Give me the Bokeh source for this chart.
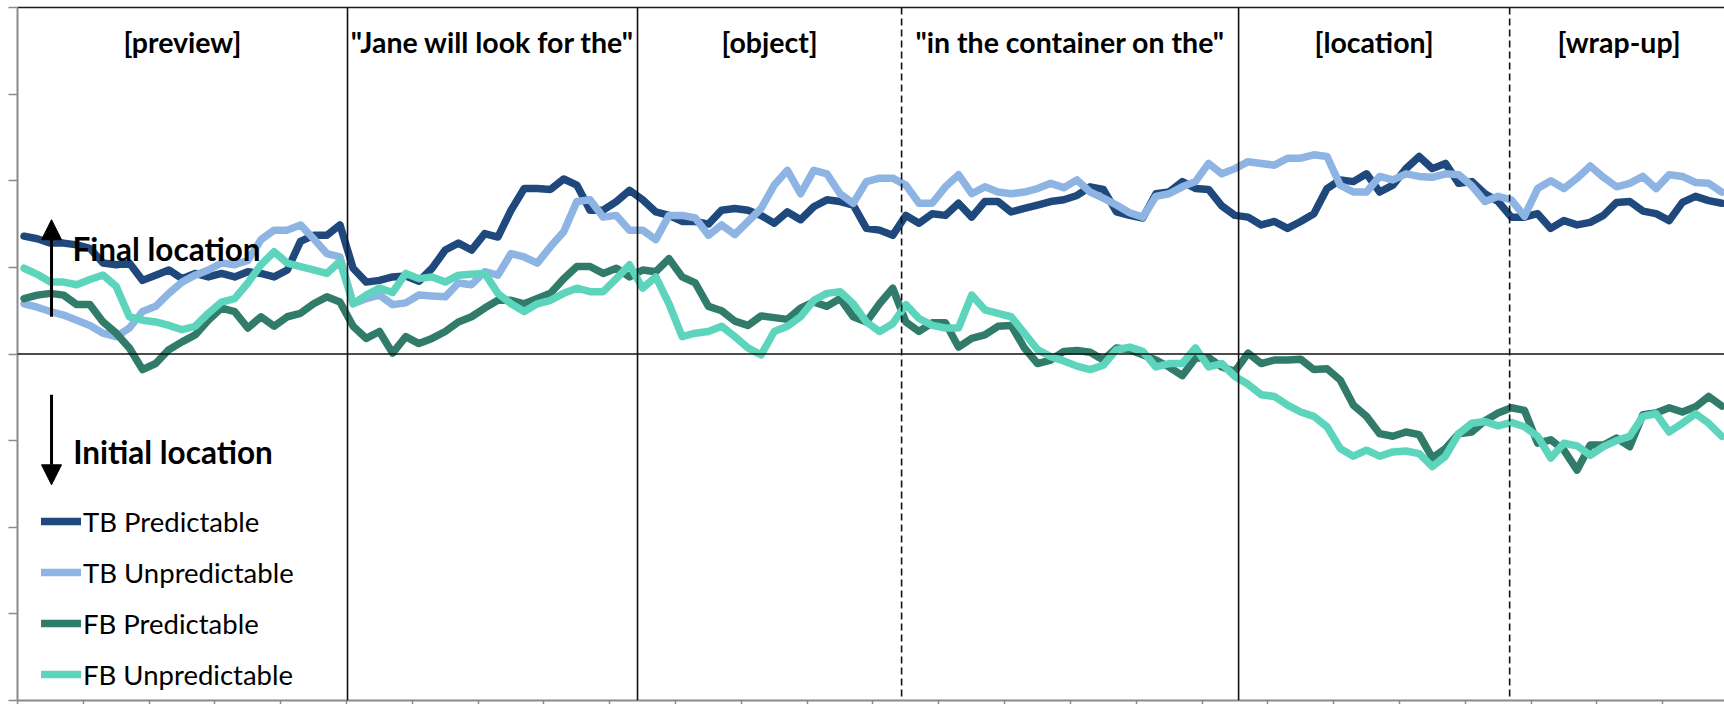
from bokeh.plotting import figure
from bokeh.models import (Range1d, FixedTicker, LinearAxis, Span, Legend, LegendItem,
                          Arrow, NormalHead, Label, ColumnDataSource, CustomJSTickFormatter)
from bokeh.core.properties import value
from bokeh.embed import file_html
from bokeh.resources import INLINE

# ---------------- data (time bins, arbitrary units: final-minus-initial preference) ----
time_bins = list(range(1, 260, 2))

tb_predictable = [
    1.36, 1.33, 1.28, 1.28, 1.26, 1.22, 1.05, 1.03, 1.05, 0.85,
    0.91, 0.97, 0.87, 0.93, 0.89, 0.93, 0.89, 0.95, 0.93, 0.89,
    0.97, 1.30, 1.37, 1.37, 1.49, 0.99, 0.83, 0.85, 0.89, 0.90,
    0.84, 0.99, 1.20, 1.28, 1.20, 1.39, 1.35, 1.66, 1.91, 1.91,
    1.90, 2.02, 1.95, 1.66, 1.66, 1.76, 1.89, 1.78, 1.64, 1.60,
    1.53, 1.53, 1.50, 1.66, 1.68, 1.66, 1.60, 1.51, 1.64, 1.55,
    1.70, 1.78, 1.76, 1.72, 1.45, 1.43, 1.37, 1.60, 1.51, 1.62,
    1.60, 1.74, 1.58, 1.76, 1.76, 1.64, 1.68, 1.72, 1.76, 1.78,
    1.83, 1.93, 1.90, 1.64, 1.60, 1.57, 1.85, 1.87, 1.99, 1.91,
    1.90, 1.71, 1.60, 1.58, 1.49, 1.53, 1.45, 1.53, 1.62, 1.91,
    2.01, 1.99, 2.08, 1.87, 1.95, 2.14, 2.28, 2.14, 2.20, 1.97,
    1.99, 1.85, 1.76, 1.58, 1.58, 1.62, 1.45, 1.54, 1.49, 1.52,
    1.60, 1.75, 1.76, 1.65, 1.62, 1.54, 1.75, 1.82, 1.77, 1.74,
]

tb_unpredictable = [
    0.58, 0.54, 0.49, 0.45, 0.39, 0.33, 0.24, 0.20, 0.30, 0.49,
    0.55, 0.70, 0.83, 0.91, 0.97, 1.05, 1.03, 1.08, 1.32, 1.43,
    1.43, 1.49, 1.33, 1.16, 1.12, 0.58, 0.64, 0.68, 0.57, 0.59,
    0.68, 0.67, 0.66, 0.82, 0.80, 0.95, 0.91, 1.16, 1.12, 1.05,
    1.24, 1.41, 1.76, 1.78, 1.58, 1.60, 1.43, 1.43, 1.32, 1.60,
    1.60, 1.57, 1.37, 1.49, 1.38, 1.53, 1.68, 1.95, 2.12, 1.85,
    2.12, 2.08, 1.85, 1.74, 1.99, 2.03, 2.03, 1.95, 1.74, 1.74,
    1.93, 2.07, 1.85, 1.93, 1.87, 1.85, 1.87, 1.91, 1.97, 1.92,
    2.01, 1.87, 1.80, 1.72, 1.63, 1.58, 1.82, 1.85, 1.93, 1.99,
    2.20, 2.08, 2.14, 2.22, 2.20, 2.18, 2.26, 2.26, 2.30, 2.28,
    1.95, 1.87, 1.87, 2.05, 2.01, 2.08, 2.05, 2.04, 2.08, 2.07,
    1.94, 1.76, 1.82, 1.78, 1.59, 1.91, 2.00, 1.91, 2.03, 2.17,
    2.04, 1.93, 1.97, 2.05, 1.91, 2.07, 2.05, 1.98, 1.97, 1.87,
]

fb_predictable = [
    0.64, 0.68, 0.70, 0.68, 0.57, 0.57, 0.37, 0.24, 0.07, -0.18,
    -0.11, 0.05, 0.14, 0.22, 0.39, 0.53, 0.49, 0.30, 0.43, 0.32,
    0.43, 0.47, 0.58, 0.66, 0.60, 0.32, 0.18, 0.26, 0.01, 0.20,
    0.12, 0.18, 0.26, 0.37, 0.43, 0.53, 0.62, 0.62, 0.58, 0.64,
    0.70, 0.87, 1.01, 1.01, 0.93, 0.99, 0.89, 0.97, 0.95, 1.10,
    0.89, 0.82, 0.55, 0.50, 0.38, 0.33, 0.44, 0.42, 0.40, 0.53,
    0.60, 0.55, 0.64, 0.43, 0.37, 0.58, 0.76, 0.37, 0.26, 0.36,
    0.36, 0.08, 0.18, 0.22, 0.32, 0.33, 0.07, -0.11, -0.07, 0.03,
    0.04, 0.02, -0.07, 0.07, 0.05, -0.01, -0.07, -0.15, -0.25, -0.05,
    -0.04, -0.15, -0.20, 0.01, -0.11, -0.07, -0.07, -0.06, -0.18, -0.17,
    -0.30, -0.59, -0.72, -0.92, -0.95, -0.90, -0.93, -1.20, -1.09, -0.92,
    -0.90, -0.77, -0.68, -0.62, -0.65, -1.03, -0.99, -1.11, -1.34, -1.05,
    -1.05, -0.97, -1.07, -0.70, -0.68, -0.62, -0.67, -0.61, -0.49, -0.60,
]

fb_unpredictable = [
    0.99, 0.92, 0.83, 0.83, 0.80, 0.86, 0.91, 0.78, 0.43, 0.39,
    0.37, 0.33, 0.28, 0.32, 0.47, 0.60, 0.64, 0.82, 1.03, 1.18,
    1.05, 1.01, 0.97, 0.93, 1.07, 0.58, 0.68, 0.76, 0.71, 0.93,
    0.87, 0.89, 0.83, 0.91, 0.92, 0.93, 0.70, 0.58, 0.49, 0.58,
    0.62, 0.70, 0.76, 0.72, 0.72, 0.87, 1.03, 0.76, 0.89, 0.58,
    0.20, 0.24, 0.26, 0.32, 0.20, 0.07, -0.01, 0.26, 0.32, 0.43,
    0.62, 0.70, 0.72, 0.58, 0.37, 0.26, 0.35, 0.57, 0.41, 0.33,
    0.30, 0.30, 0.68, 0.51, 0.47, 0.43, 0.24, 0.05, -0.03, -0.08,
    -0.14, -0.18, -0.13, 0.05, 0.08, 0.03, -0.15, -0.11, -0.11, 0.07,
    -0.15, -0.11, -0.26, -0.35, -0.47, -0.49, -0.59, -0.67, -0.72, -0.84,
    -1.09, -1.18, -1.11, -1.18, -1.13, -1.12, -1.15, -1.30, -1.18, -0.92,
    -0.80, -0.78, -0.83, -0.79, -0.84, -0.95, -1.20, -1.03, -1.06, -1.17,
    -1.07, -1.00, -0.95, -0.72, -0.69, -0.90, -0.80, -0.69, -0.80, -0.95,
]

series_names = ["TB Predictable", "TB Unpredictable", "FB Predictable", "FB Unpredictable"]
series_values = [tb_predictable, tb_unpredictable, fb_predictable, fb_unpredictable]
series_colors = ["#1F497D", "#8DB4E2", "#317B6A", "#5DD5BD"]

# sentence regions (boundaries in time bins) and their labels
region_edges = [0, 50.15, 94.22, 134.35, 185.56, 226.75, 260]
boundary_dashed = [False, False, True, False, True]   # inner boundaries, left to right
region_labels = ["[preview]", "\"Jane will look for the\"", "[object]",
                 "\"in the container on the\"", "[location]", "[wrap-up]"]

x_ticks = list(range(0, 261, 10))
y_ticks = [-4, -3, -2, -1, 0, 1, 2, 3, 4]

# ---------------- figure ----------------
FONT = "Lato"
p = figure(width=1724, height=704, output_backend="svg", toolbar_location=None,
           x_range=Range1d(0, 259.4), y_range=Range1d(-4, 4),
           min_border_left=17, min_border_right=0, min_border_top=7, min_border_bottom=0,
           outline_line_color=None, background_fill_color="white",
           border_fill_color="white")
p.grid.visible = False

AXIS_GRAY = "#8A8A8A"
blank = CustomJSTickFormatter(code="return ''")
for ax, tks, tout in ((p.xaxis[0], x_ticks, 4), (p.yaxis[0], y_ticks, 9)):
    ax.ticker = FixedTicker(ticks=tks)
    ax.formatter = blank
    ax.major_label_standoff = 0
    ax.major_tick_out = tout
    ax.major_tick_in = 0
    ax.minor_tick_out = 0
    ax.minor_tick_in = 0
    ax.axis_line_color = AXIS_GRAY
    ax.axis_line_width = 2
    ax.major_tick_line_color = AXIS_GRAY
    ax.major_tick_line_width = 1.5

top_axis = LinearAxis(ticker=FixedTicker(ticks=[]), formatter=blank,
                      major_label_standoff=0, major_tick_out=0, major_tick_in=0,
                      minor_tick_out=0, minor_tick_in=0,
                      axis_line_color="#1A1A1A", axis_line_width=1.5)
p.add_layout(top_axis, "above")

# data lines
renderers = []
for vals, col in zip(series_values, series_colors):
    r = p.line(time_bins, vals, line_color=col, line_width=7.5,
               line_join="round", line_cap="round")
    renderers.append(r)

# zero line and region boundaries
p.add_layout(Span(location=0, dimension="width", line_color="#111111", line_width=1.6))
for edge, dashed in zip(region_edges[1:-1], boundary_dashed):
    p.add_layout(Span(location=edge, dimension="height", line_color="#111111",
                      line_width=1.6, line_dash="7 4" if dashed else "solid"))

# region labels
mids = [(a + b) / 2 for a, b in zip(region_edges[:-1], region_edges[1:])]
lab_src = ColumnDataSource(dict(x=mids, y=[3.60] * len(mids), t=region_labels))
p.text(x="x", y="y", text="t", source=lab_src, text_font=value(FONT),
       text_font_style="bold", text_font_size=value("28.5px"), text_color="black",
       text_align="center", text_baseline="alphabetic")

# direction arrows and their labels
ARROW_X = 5.17
p.add_layout(Arrow(end=NormalHead(size=20, fill_color="black", line_color="black"),
                   x_start=ARROW_X, y_start=0.43, x_end=ARROW_X, y_end=1.55,
                   line_color="black", line_width=3))
p.add_layout(Arrow(end=NormalHead(size=20, fill_color="black", line_color="black"),
                   x_start=ARROW_X, y_start=-0.47, x_end=ARROW_X, y_end=-1.51,
                   line_color="black", line_width=3))
p.add_layout(Label(x=8.36, y=1.21, text="Final location", text_font=FONT,
                   text_font_style="bold", text_font_size="31.5px", text_color="black",
                   text_align="left", text_baseline="alphabetic"))
p.add_layout(Label(x=8.46, y=-1.13, text="Initial location", text_font=FONT,
                   text_font_style="bold", text_font_size="31.5px", text_color="black",
                   text_align="left", text_baseline="alphabetic"))

# legend
legend = Legend(items=[LegendItem(label=n, renderers=[r]) for n, r in zip(series_names, renderers)],
                location=(24, 8), orientation="vertical",
                label_text_font=FONT, label_text_font_size="27.5px", label_text_color="black",
                glyph_width=40, glyph_height=20, label_height=36, label_standoff=2,
                spacing=15, padding=0, margin=0,
                background_fill_alpha=0, border_line_color=None)
p.add_layout(legend)

open("out.html", "w").write(file_html(p, INLINE))
